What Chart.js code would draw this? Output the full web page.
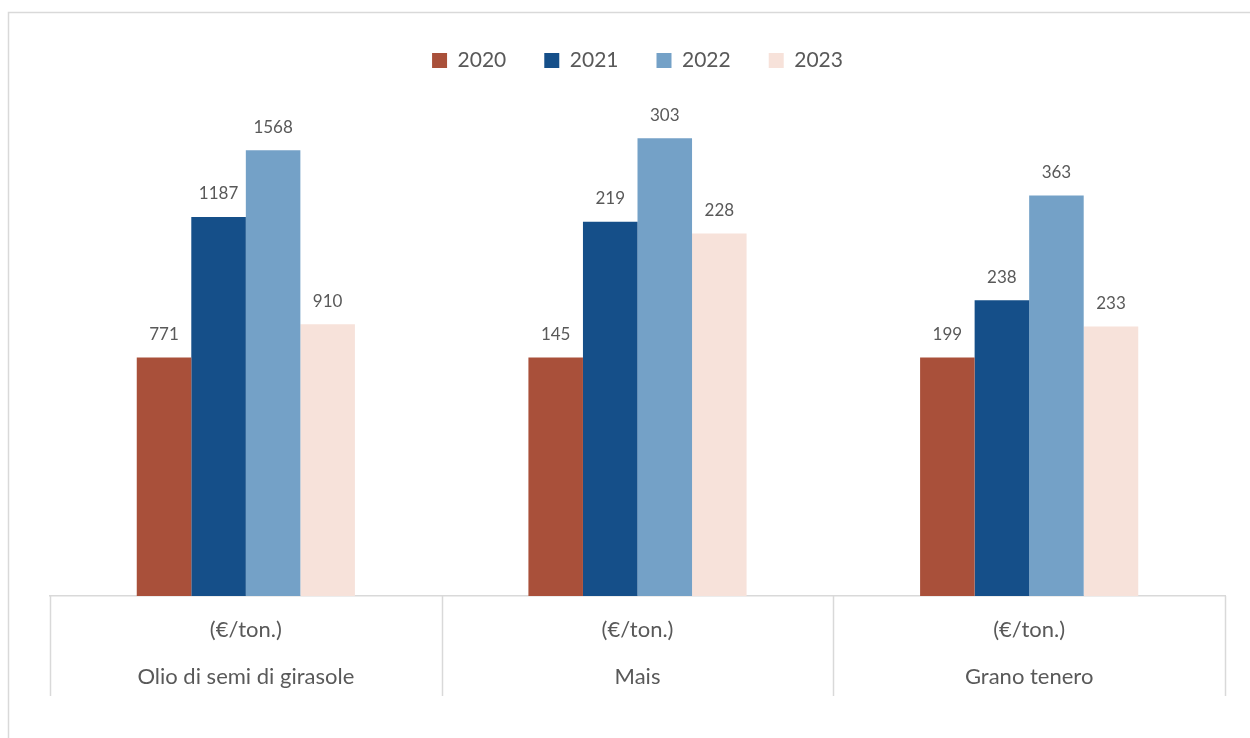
<!DOCTYPE html>
<html>
<head>
<meta charset="utf-8">
<script src="https://cdn.jsdelivr.net/npm/chart.js@4"></script>
<style>
    body { margin: 0; background: #fff; }
    #wrap { width: 1250px; height: 738px; }
</style>
</head>
<body>
<div id="wrap"><canvas id="myChart" width="1250" height="738"></canvas></div>
<script>
// Categories (two-line axis labels)
const categories = [
    ["(€/ton.)", "Olio di semi di girasole"],
    ["(€/ton.)", "Mais"],
    ["(€/ton.)", "Grano tenero"],
];
const years = ["2020", "2021", "2022", "2023"];

// Printed values over the bars (€/ton.)
const values2020 = [771, 145, 199];
const values2021 = [1187, 219, 238];
const values2022 = [1568, 303, 363];
const values2023 = [910, 228, 233];

// Bar heights as drawn in the picture (index, 2020 = 100 in every group)
const index2020 = [100, 100, 100];
const index2021 = [159, 157, 124];
const index2022 = [187, 192, 168];
const index2023 = [114, 152, 113];

const colors = ["#A9503A", "#154F89", "#74A1C7", "#F7E2DA"];
const textColor = "#595959";
const lineColor = "#D9D9D9";

const printed = [values2020, values2021, values2022, values2023];
const heights = [index2020, index2021, index2022, index2023];

// Outer frame (only left and top edges are inside the picture)
const framePlugin = {
    id: "frame",
    beforeDraw(chart) {
        const c = chart.ctx;
        c.save();
        c.fillStyle = "#fff";
        c.fillRect(0, 0, chart.width, chart.height);
        c.strokeStyle = lineColor;
        c.lineWidth = 1.5;
        c.strokeRect(8.5, 12.5, 1400, 800);
        c.restore();
    },
};

// Vertical separators of the category "table" under the axis
const axisBoxes = {
    id: "axisBoxes",
    afterDraw(chart) {
        const x = chart.scales.x;
        const n = chart.data.labels.length;
        const step = (x.right - x.left) / n;
        const c = chart.ctx;
        c.save();
        c.strokeStyle = lineColor;
        c.lineWidth = 1.5;
        for (let i = 0; i <= n; i++) {
            const px = Math.round(x.left + i * step) + 0.5;
            c.beginPath();
            c.moveTo(px, x.top);
            c.lineTo(px, x.top + 100);
            c.stroke();
        }
        c.restore();
    },
};

// Value labels over the bars
const valueLabels = {
    id: "valueLabels",
    afterDatasetsDraw(chart) {
        const c = chart.ctx;
        c.save();
        c.font = "17px Lato";
        c.fillStyle = textColor;
        c.textAlign = "center";
        c.textBaseline = "middle";
        chart.data.datasets.forEach((ds, i) => {
            chart.getDatasetMeta(i).data.forEach((bar, j) => {
                c.fillText(String(printed[i][j]), bar.x, bar.y - 23);
            });
        });
        c.restore();
    },
};

new Chart(document.getElementById("myChart"), {
    type: "bar",
    data: {
        labels: categories,
        datasets: years.map((y, i) => ({
            label: y,
            data: heights[i],
            backgroundColor: colors[i],
            borderWidth: 0,
            categoryPercentage: 0.557,
            barPercentage: 1,
        })),
    },
    options: {
        responsive: false,
        animation: false,
        layout: { padding: { left: 50, right: 25, top: 12, bottom: 27 } },
        plugins: {
            legend: {
                position: "top",
                labels: {
                    color: textColor,
                    font: { family: "Lato", size: 21 },
                    boxWidth: 15,
                    boxHeight: 15,
                    padding: 38,
                },
            },
            tooltip: { enabled: false },
        },
        scales: {
            x: {
                grid: {
                    drawOnChartArea: false,
                    drawTicks: false,
                },
                border: { color: lineColor, width: 1.5 },
                ticks: {
                    color: textColor,
                    font: { family: "Lato", size: 22, lineHeight: 47 / 22 },
                    padding: 10.5,
                    maxRotation: 0,
                },
            },
            y: {
                display: false,
                min: 0,
                max: 216,
            },
        },
    },
    plugins: [framePlugin, axisBoxes, valueLabels],
});
</script>
</body>
</html>
